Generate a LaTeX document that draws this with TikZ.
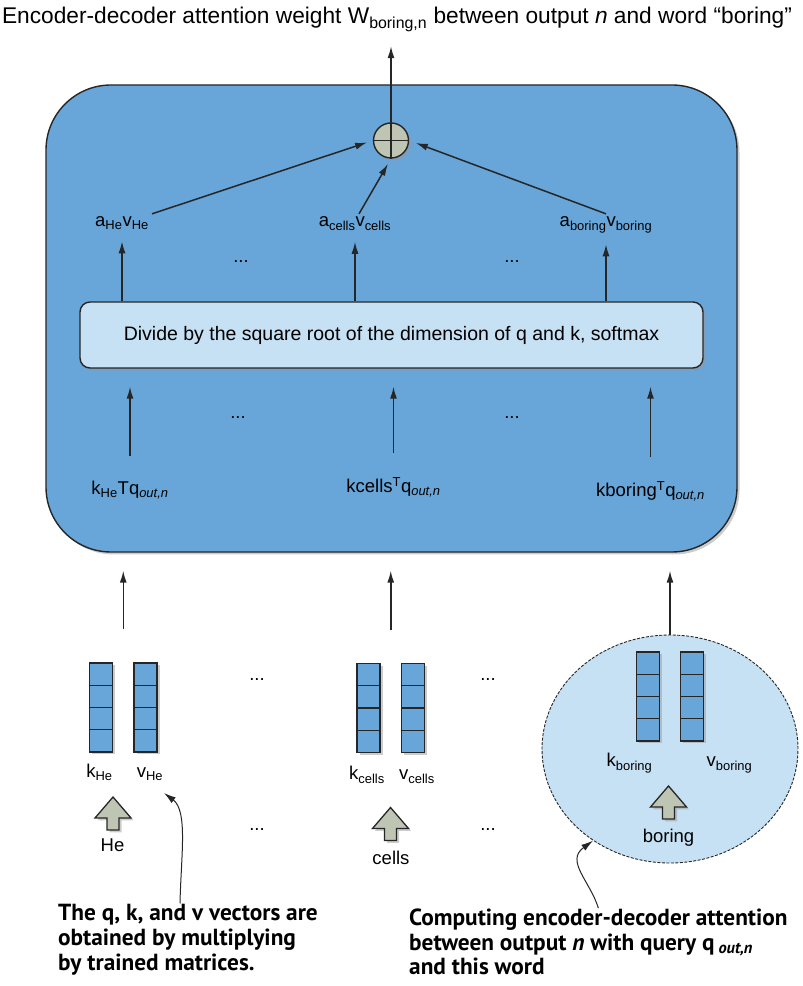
\documentclass[tikz,border=0pt]{standalone}
\usepackage{fontspec}
\setmainfont{Liberation Sans}
\newfontfamily\notefont{PT Sans}
\usepackage{tikz}
\usetikzlibrary{calc,positioning,arrows.meta,shapes.geometric,shadows}

\definecolor{boxblue}{RGB}{104,165,216}
\definecolor{paleblue}{RGB}{198,224,244}
\definecolor{sagegray}{RGB}{190,197,179}
\definecolor{darkline}{RGB}{38,38,38}

\newcommand{\vecwidth}{23pt}
\newcommand{\vecheight}{89pt}
\newcommand{\titlefont}{\fontsize{22.7}{27}\selectfont}
\newcommand{\boxfont}{\fontsize{19.5}{23}\selectfont}
\newcommand{\labelfont}{\fontsize{18.5}{22}\selectfont}
\newcommand{\notesize}{\fontsize{23.3}{25}\selectfont}
%% fat up arrow under a word, centred on a named coordinate
\newcommand{\blockup}[1]{\draw[blockarrow] (#1) ++(-6,-16.5) -- ++(12,0) -- ++(0,12) -- ++(12,0) -- ++(-18,21) -- ++(-18,-21) -- ++(12,0) -- cycle;}

\begin{document}
\begin{tikzpicture}[x=1pt,y=1pt]

%% styles
\tikzstyle{arrow}=[-{Latex[length=12pt,width=7pt]},line width=1.5pt,draw=darkline]
\tikzstyle{shade}=[drop shadow={shadow xshift=2.5pt,shadow yshift=-2.5pt,fill=black!40}]
\tikzstyle{bigbox}=[draw=darkline,line width=1.4pt,fill=boxblue,rounded corners=65pt,minimum width=691pt,minimum height=467pt,shade]
\tikzstyle{softbox}=[draw=darkline,line width=1.4pt,fill=paleblue,rounded corners=10pt,minimum width=623pt,minimum height=66pt,font=\boxfont,shade]
\tikzstyle{txt}=[font=\labelfont,inner sep=3pt]
\tikzstyle{sumnode}=[circle,draw=darkline,line width=1.4pt,fill=sagegray,minimum size=35pt,inner sep=0pt,shade]
\tikzstyle{vec}=[draw=darkline,line width=1.3pt,fill=boxblue,minimum width=\vecwidth,minimum height=\vecheight,inner sep=0pt,shade,
  path picture={\foreach \i in {1,2,3} \draw[darkline,line width=1.3pt] ([yshift=-\i*\vecheight/4]path picture bounding box.north west) -- ([yshift=-\i*\vecheight/4]path picture bounding box.north east);}]
\tikzstyle{blockarrow}=[draw=darkline,line width=1.3pt,fill=sagegray,line join=miter,shade]
\tikzstyle{focusring}=[ellipse,draw=darkline,line width=0.9pt,dash pattern=on 3pt off 1.5pt,fill=paleblue,minimum width=256pt,minimum height=228pt]
\tikzstyle{note}=[font=\notefont\bfseries\notesize,align=left,inner sep=0pt]

%% frame of the page
\useasboundingbox (0,0) rectangle (803,986);

%% attention block
\node (attn) [bigbox] at (391.5,667.5) {};
\node (title) [font=\titlefont,anchor=base] at (397,962) {Encoder-decoder attention weight W\textsubscript{boring,n} between output \textit{n} and word “boring”};
\node (sum) [sumnode] at (391,845.5) {};
\draw[darkline,line width=1.3pt] (sum.north) -- (sum.south);
\draw[darkline,line width=1.3pt] (sum.west) -- (sum.east);

%% weighted values
\node (aHe) [txt,anchor=base] at (122,759) {a\textsubscript{He}v\textsubscript{He}};
\node (acells) [txt,anchor=base] at (355,759) {a\textsubscript{cells}v\textsubscript{cells}};
\node (aboring) [txt,anchor=base] at (606,759) {a\textsubscript{boring}v\textsubscript{boring}};
\node (dotsA) [txt] at (241,724) {...};
\node (dotsB) [txt] at (512,724) {...};

%% softmax box
\node (softmax) [softbox] at (391.5,651) {Divide by the square root of the dimension of q and k, softmax};

%% scores
\node (kHe) [txt,anchor=base] at (130,491) {k\textsubscript{He}Tq\textsubscript{\itshape out,n}};
\node (kcells) [txt,anchor=base] at (393.5,493) {kcells\textsuperscript{T}q\textsubscript{\itshape out,n}};
\node (kboring) [txt,anchor=base] at (650.5,489) {kboring\textsuperscript{T}q\textsubscript{\itshape out,n}};
\node (dotsC) [txt] at (238,568) {...};
\node (dotsD) [txt] at (512,568) {...};

%% arrows inside the block
\draw[arrow] (aHe.north east) -- (sum.west) [shorten >=6pt];
\draw[arrow] ([xshift=4pt]acells.north) -- (sum.south) [shorten >=6pt];
\draw[arrow] (aboring.north) -- (sum.east) [shorten >=7pt];
\draw[arrow] (sum.north) -- (sum.north |- title.south) [shorten >=11pt];
\draw[arrow] (softmax.north -| aHe.south) -- ([yshift=-8pt]aHe.south);
\draw[arrow] (softmax.north -| acells.south) -- ([yshift=-8pt]acells.south);
\draw[arrow] (softmax.north -| aboring.south) -- ([yshift=-8pt]aboring.south);
\draw[arrow] ([yshift=22pt]kHe.north) -- (softmax.south -| kHe.north) [shorten >=18pt];
\draw[arrow] ([yshift=22pt]kcells.north) -- (softmax.south -| kcells.north) [shorten >=18pt];
\draw[arrow] ([yshift=22pt]kboring.north) -- (softmax.south -| kboring.north) [shorten >=18pt];

%% the word in focus
\node (focus) [focusring] at (670,237) {};

%% key and value vectors
\node (kHeVec) [vec] at (101,278.5) {};
\node (vHeVec) [vec] at (145.5,278.5) {};
\node (kcellsVec) [vec] at (368.5,278) {};
\node (vcellsVec) [vec] at (413,278) {};
\node (kboringVec) [vec] at (648,289.5) {};
\node (vboringVec) [vec] at (692,289.5) {};

\node (kHeName) [txt,anchor=base] at (99.5,208) {k\textsubscript{He}};
\node (vHeName) [txt,anchor=base] at (150,208) {v\textsubscript{He}};
\node (kcellsName) [txt,anchor=base] at (367,206) {k\textsubscript{cells}};
\node (vcellsName) [txt,anchor=base] at (417,206) {v\textsubscript{cells}};
\node (kboringName) [txt,anchor=base] at (629.5,219) {k\textsubscript{boring}};
\node (vboringName) [txt,anchor=base] at (729.5,219) {v\textsubscript{boring}};

\node (dotsE) [txt] at (257,306) {...};
\node (dotsF) [txt] at (488,306) {...};
\node (dotsG) [txt] at (257,156) {...};
\node (dotsH) [txt] at (488,156) {...};

%% input words
\coordinate (upHe) at (113,172.5);
\coordinate (upCells) at (390.5,162);
\coordinate (upBoring) at (668.5,183.5);
\blockup{upHe}
\blockup{upCells}
\blockup{upBoring}
\node (He) [txt] at (112.5,141) {He};
\node (cells) [txt] at (391,128) {cells};
\node (boring) [txt] at (668.5,148) {boring};

%% arrows into the block
\coordinate (inHe) at ($(kHeVec.north)!.5!(vHeVec.north)+(0,33)$);
\coordinate (inCells) at ($(kcellsVec.north)!.5!(vcellsVec.north)+(0,33)$);
\draw[arrow] (inHe) -- (inHe |- attn.south) [shorten >=18pt];
\draw[arrow] (inCells) -- (inCells |- attn.south) [shorten >=18pt];
\draw[arrow] (focus.north) -- (focus.north |- attn.south) [shorten >=18pt];

%% notes (base = baseline of the last line)
\node (noteLeft) [note,anchor=base west] at (58,16) {The q, k, and v vectors are\\obtained by multiplying\\by trained matrices.};
\node (noteRight) [note,anchor=base west] at (409,11) {Computing encoder-decoder attention\\between output \textit{n} with query q\,\textsubscript{\itshape out,n}\\and this word};
\coordinate (tipHe) at (164,193);
\draw[arrow,line width=1pt] ([xshift=-8pt]noteLeft.north) .. controls (181,130) and (188,175) .. (tipHe);
\draw[arrow,line width=1pt] (noteRight.north) .. controls (590,105) and (565,125) .. (focus.230);

\end{tikzpicture}
\end{document}
